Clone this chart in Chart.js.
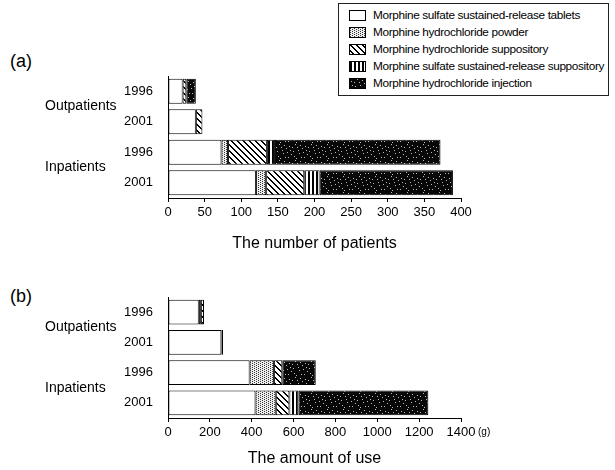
<!DOCTYPE html>
<html>
<head>
<meta charset="utf-8">
<script src="https://cdn.jsdelivr.net/npm/chart.js@4.4.0/dist/chart.umd.min.js"></script>
<style>
  body { margin: 0; background: #fff; font-family: "Liberation Sans", Arial, sans-serif; }
  #wrap { position: relative; width: 615px; height: 470px; }
  canvas.chart { position: absolute; left: 0; }
  .tag { position: absolute; font-size: 18px; color: #000; }
  #legend { position: absolute; left: 338px; top: 3px; width: 269px; height: 91px; border: 1px solid #222; }
  .row { position: absolute; left: 10px; height: 17px; font-size: 11.8px; letter-spacing: -0.35px; line-height: 17px; white-space: nowrap; }
  .row canvas { position: absolute; left: 0; top: 3px; border: 1px solid #000; }
  .row span { position: absolute; left: 24px; }
  #unit { position: absolute; left: 478px; top: 426px; font-size: 10px; }
</style>
</head>
<body>
<div id="wrap">
  <div class="tag" style="left:10px;top:51px">(a)</div>
  <div class="tag" style="left:10px;top:286px">(b)</div>
  <div id="legend"></div>
  <canvas id="chartA" class="chart" width="615" height="265" style="top:0"></canvas>
  <canvas id="chartB" class="chart" width="615" height="205" style="top:265px"></canvas>
  <div id="unit">(g)</div>
</div>
<script>
// categories
const years = ['1996', '2001', '1996', '2001'];
const groups = ['Outpatients', 'Inpatients'];
const seriesNames = [
  'Morphine sulfate sustained-release tablets',
  'Morphine hydrochloride powder',
  'Morphine hydrochloride suppository',
  'Morphine sulfate sustained-release suppository',
  'Morphine hydrochloride injection'
];

// (a) number of patients
const patTablets   = [20, 38, 73, 120];
const patPowder    = [null, null, 9, 14];
const patSupp      = [5, 9, 53, 52];
const patSrSupp    = [null, null, 11, 21];
const patInjection = [13, null, 226, 182];
const patTicks = { max: 400, step: 50 };

// (b) amount of use (g)
const useTablets   = [147, 255, 390, 418];
const usePowder    = [10, null, 116, 97];
const useSupp      = [15, 8, 40, 65];
const useSrSupp    = [null, null, null, 44];
const useInjection = [null, null, 160, 620];
const useTicks = { max: 1400, step: 200 };

function tile(w, h, draw) {
  const c = document.createElement('canvas');
  c.width = w; c.height = h;
  const g = c.getContext('2d');
  draw(g);
  return c;
}

const tiles = [
  tile(4, 4, g => { g.fillStyle = '#fff'; g.fillRect(0, 0, 4, 4); }),
  tile(4, 4, g => {
    g.fillStyle = '#eee'; g.fillRect(0, 0, 4, 4);
    g.fillStyle = '#333';
    [[0, 0], [2, 1], [0, 2], [2, 3]].forEach(p => g.fillRect(p[0], p[1], 1, 1));
  }),
  tile(6, 6, g => {
    g.fillStyle = '#fff'; g.fillRect(0, 0, 6, 6);
    g.fillStyle = '#000';
    for (let y = 0; y < 6; y++) for (let x = 0; x < 6; x++) {
      if (((x - y) % 6 + 6) % 6 < 2) g.fillRect(x, y, 1, 1);
    }
  }),
  tile(4, 4, g => {
    g.fillStyle = '#fff'; g.fillRect(0, 0, 4, 4);
    g.fillStyle = '#000'; g.fillRect(0, 0, 2, 4);
  }),
  tile(16, 16, g => {
    g.fillStyle = '#080808'; g.fillRect(0, 0, 16, 16);
    g.fillStyle = '#bdbdbd';
    [[1, 2], [5, 7], [9, 3], [3, 10], [11, 9], [7, 0], [13, 13], [6, 12], [2, 6], [10, 6],
     [14, 4], [8, 14], [4, 3], [12, 1], [0, 13], [15, 8]].forEach(p => g.fillRect(p[0], p[1], 1, 1));
  })
];

function fills(ctx) {
  return tiles.map(t => ctx.createPattern(t, 'repeat'));
}

// legend
const legend = document.getElementById('legend');
seriesNames.forEach((name, i) => {
  const row = document.createElement('div');
  row.className = 'row';
  row.style.top = (3 + i * 17) + 'px';
  const sw = document.createElement('canvas');
  sw.width = 15; sw.height = 9;
  const sctx = sw.getContext('2d');
  sctx.fillStyle = sctx.createPattern(tiles[i], 'repeat');
  sctx.fillRect(0, 0, 15, 9);
  const txt = document.createElement('span');
  txt.textContent = name;
  row.appendChild(sw);
  row.appendChild(txt);
  legend.appendChild(row);
});

const groupLabels = {
  id: 'groupLabels',
  afterDraw(chart) {
    const ctx = chart.ctx, y = chart.scales.y;
    ctx.save();
    ctx.font = '14px "Liberation Sans", Arial, sans-serif';
    ctx.fillStyle = '#000';
    ctx.textAlign = 'left';
    ctx.textBaseline = 'middle';
    groups.forEach((g, i) => {
      const yy = (y.getPixelForValue(2 * i) + y.getPixelForValue(2 * i + 1)) / 2;
      ctx.fillText(g, 45, yy);
    });
    ctx.restore();
  }
};

function makeChart(id, values, ticks, title, padTop, axisH, titlePad) {
  const ctx = document.getElementById(id).getContext('2d');
  const pats = fills(ctx);
  return new Chart(ctx, {
    type: 'bar',
    data: {
      labels: years,
      datasets: values.map((v, i) => ({
        label: seriesNames[i],
        data: v,
        backgroundColor: pats[i],
        borderColor: '#000',
        borderWidth: 1,
        borderSkipped: false,
        barPercentage: 0.82,
        categoryPercentage: 1
      }))
    },
    options: {
      indexAxis: 'y',
      responsive: false,
      animation: false,
      layout: { padding: { top: padTop, right: 154, left: 0, bottom: 0 } },
      plugins: { legend: { display: false }, tooltip: { enabled: false } },
      scales: {
        x: {
          stacked: true,
          min: 0, max: ticks.max,
          afterFit: s => { s.height = axisH; },
          border: { display: true, color: '#000', width: 1 },
          grid: { display: true, drawOnChartArea: false, drawTicks: true, tickLength: 4, color: '#000' },
          ticks: { stepSize: ticks.step, color: '#000', padding: 3, maxRotation: 0,
                   callback: v => String(v),
                   font: { family: '"Liberation Sans", Arial, sans-serif', size: 13 } },
          title: { display: true, text: title, color: '#000',
                   padding: { top: 4, bottom: titlePad },
                   font: { family: '"Liberation Sans", Arial, sans-serif', size: 16 } }
        },
        y: {
          stacked: true,
          afterFit: s => { s.width = 168; },
          border: { display: true, color: '#000', width: 1 },
          grid: { display: false },
          ticks: { color: '#000', padding: 7,
                   font: { family: '"Liberation Sans", Arial, sans-serif', size: 13 } }
        }
      }
    },
    plugins: [groupLabels]
  });
}

makeChart('chartA', [patTablets, patPowder, patSupp, patSrSupp, patInjection], patTicks,
  'The number of patients', 76, 67, 12);
makeChart('chartB', [useTablets, usePowder, useSupp, useSrSupp, useInjection], useTicks,
  'The amount of use', 32, 52, 2);
</script>
</body>
</html>
